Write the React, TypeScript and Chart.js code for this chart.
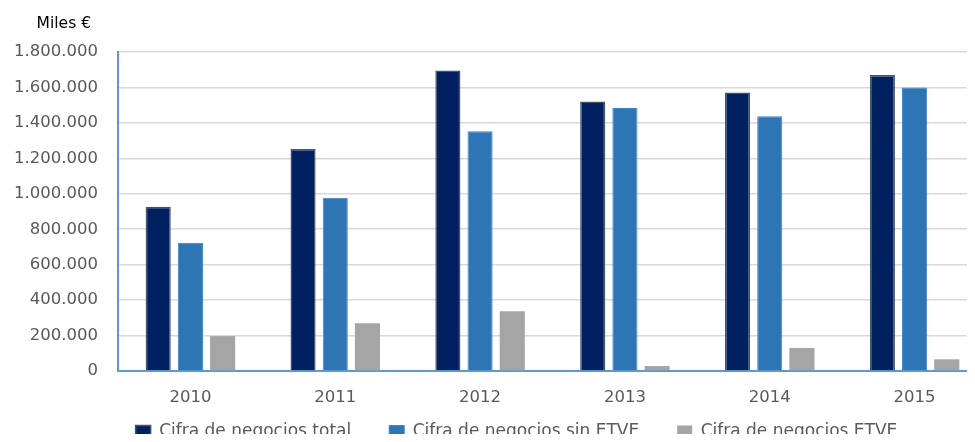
import React, { useEffect, useRef } from "react";
import { Chart, registerables } from "chart.js";

Chart.register(...registerables);

const CATEGORIES = ["2010", "2011", "2012", "2013", "2014", "2015"];
const SERIES_NAMES = ["Cifra de negocios total", "Cifra de negocios sin ETVE", "Cifra de negocios ETVE"];
const TOTAL = [927000, 1253000, 1695000, 1520000, 1571000, 1670000];
const SIN_ETVE = [724000, 978000, 1353000, 1484000, 1437000, 1599000];
const ETVE = [197000, 269000, 337000, 28000, 130000, 66000];
const Y_MIN = 0;
const Y_MAX = 1800000;
const Y_STEP = 200000;
const UNIT_LABEL = "Miles €";

const FONT = "'DejaVu Sans', sans-serif";
const TEXT_COLOR = "#595959";
const AXIS_BLUE = "#5B9BD5";
const LEGEND_PAD = 38;
const LEGEND_H = 21;
const XAXIS_H = 50;
const LEGEND_CENTER_Y = 432;
const LEGEND_DX = 19;

const fmt = (v: number) => String(Math.round(v)).replace(/\B(?=(\d{3})+(?!\d))/g, ".");

const unitLabelPlugin = {
  id: "unitLabel",
  afterDraw(chart: any) {
    const { ctx, chartArea } = chart;
    ctx.save();
    ctx.font = `15.5px ${FONT}`;
    ctx.fillStyle = "#000000";
    ctx.textAlign = "right";
    ctx.textBaseline = "middle";
    ctx.fillText(UNIT_LABEL, chartArea.left - 27, chartArea.top - 28);
    ctx.restore();
  },
};

const legendPlacePlugin = {
  id: "legendPlace",
  beforeUpdate(chart: any) {
    const lg = chart.legend;
    if (lg && !lg._fitWrapped) {
      const orig = lg.fit.bind(lg);
      lg.fit = function () {
        orig();
        this.height = LEGEND_H;
      };
      if (typeof lg._draw === "function") {
        lg.draw = function () {
          if (this.options.display) this._draw();
        };
      }
      lg._fitWrapped = true;
    }
  },
  afterLayout(chart: any) {
    const lg = chart.legend;
    if (!lg) return;
    lg.top = LEGEND_CENTER_Y - 8.5 - LEGEND_PAD;
    lg.bottom = chart.height + 40;
    lg.height = lg.bottom - lg.top;
    lg.left += LEGEND_DX;
    lg.right += LEGEND_DX;
  },
};

export default function App() {
  const ref = useRef<HTMLCanvasElement | null>(null);

  useEffect(() => {
    document.documentElement.style.overflow = "hidden";
    const canvas = ref.current;
    if (!canvas) return;
    const chart = new Chart(canvas, {
      type: "bar",
      data: {
        labels: CATEGORIES,
        datasets: [
          {
            label: SERIES_NAMES[0],
            data: TOTAL,
            backgroundColor: "#002060",
            borderColor: "#44546A",
            borderWidth: 1.5,
          },
          {
            label: SERIES_NAMES[1],
            data: SIN_ETVE,
            backgroundColor: "#2E75B6",
            borderColor: "#3F86C8",
            borderWidth: 1,
          },
          {
            label: SERIES_NAMES[2],
            data: ETVE,
            backgroundColor: "#A5A5A5",
            borderWidth: 0,
          },
        ],
      },
      options: {
        responsive: false,
        animation: false,
        devicePixelRatio: 1,
        datasets: {
          bar: {
            categoryPercentage: 0.667,
            barPercentage: 0.78,
          },
        },
        layout: { padding: { left: 8, right: 3, top: 52, bottom: 0 } },
        scales: {
          x: {
            grid: { display: false, drawTicks: false },
            border: { display: true, color: AXIS_BLUE, width: 2 },
            ticks: { color: TEXT_COLOR, font: { family: FONT, size: 16.5 }, padding: 17 },
            afterFit: (s: any) => {
              s.height = XAXIS_H;
            },
          },
          y: {
            min: Y_MIN,
            max: Y_MAX,
            grid: { color: "#D9D9D9", lineWidth: 1.6, drawTicks: false },
            border: { display: true, color: AXIS_BLUE, width: 2 },
            ticks: {
              stepSize: Y_STEP,
              color: TEXT_COLOR,
              font: { family: FONT, size: 16.5 },
              padding: 20,
              callback: (v: any) => fmt(Number(v)),
            },
            afterFit: (s: any) => {
              s.width = 110;
            },
          },
        },
        plugins: {
          legend: {
            position: "bottom",
            labels: {
              color: TEXT_COLOR,
              font: { family: FONT, size: 17 },
              boxWidth: 15,
              boxHeight: 13,
              padding: LEGEND_PAD,
            },
          },
          tooltip: { enabled: false },
        },
      },
      plugins: [unitLabelPlugin, legendPlacePlugin],
    });
    return () => chart.destroy();
  }, []);

  return (
    <div style={{ width: 975, height: 442, overflow: "hidden", margin: -8 }}>
      <canvas ref={ref} width={990} height={442} style={{ display: "block", width: 990, height: 442 }} />
    </div>
  );
}
